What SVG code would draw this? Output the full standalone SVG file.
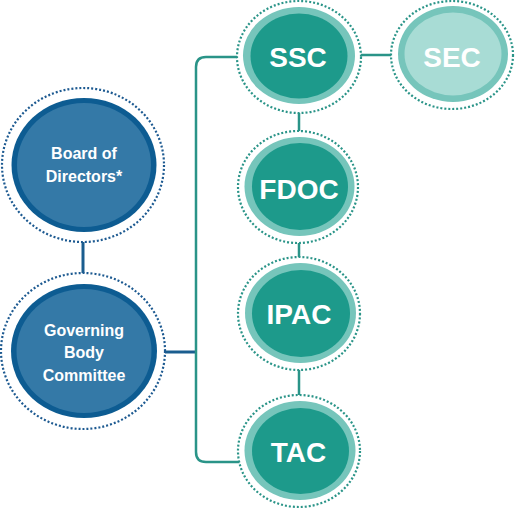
<svg xmlns="http://www.w3.org/2000/svg" width="515" height="508" viewBox="0 0 515 508">
<style>
.bdot{fill:#fff;stroke:#1d5a91;stroke-width:2.2;stroke-dasharray:2 2}
.bring{fill:#0d5c92}
.bfill{fill:#3479a7}
.tdot{fill:#fff;stroke:#2a9488;stroke-width:2.2;stroke-dasharray:2 2}
.tring{fill:#76c5bb}
.tfill{fill:#1d9a8b}
.sfill{fill:#a8dcd5}
.btxt{font-family:"Liberation Sans",Arial,sans-serif;font-weight:bold;font-size:16px;fill:#fff;text-anchor:middle}
.ttxt{font-family:"Liberation Sans",Arial,sans-serif;font-weight:bold;font-size:28px;fill:#fff;text-anchor:middle}
</style>
<rect width="515" height="508" fill="#fff"/>
<g id="connectors" fill="none">
<line x1="83" y1="240" x2="83" y2="275" stroke="#1a5d8f" stroke-width="3"/>
<line x1="165" y1="352" x2="196" y2="352" stroke="#1a5d8f" stroke-width="3"/>
<path d="M240 57 H206 Q196 57 196 67 V452 Q196 462 206 462 H245" stroke="#2a9488" stroke-width="2.5"/>
<line x1="299" y1="100" x2="299" y2="410" stroke="#2a9488" stroke-width="2.5"/>
<line x1="355" y1="55" x2="398" y2="55" stroke="#2a9488" stroke-width="2.5"/>
</g>
<g id="board">
<ellipse class="bdot" cx="83" cy="165" rx="81" ry="77"/>
<ellipse class="bring" cx="84" cy="165" rx="72.5" ry="67"/>
<ellipse class="bfill" cx="84" cy="165" rx="67" ry="62"/>
<text class="btxt" x="84" y="159">Board of</text>
<text class="btxt" x="84" y="182">Directors*</text>
</g>
<g id="governing">
<ellipse class="bdot" cx="83" cy="351" rx="82" ry="78"/>
<ellipse class="bring" cx="84" cy="351" rx="73" ry="67"/>
<ellipse class="bfill" cx="84" cy="351" rx="67.5" ry="62"/>
<text class="btxt" x="84" y="336">Governing</text>
<text class="btxt" x="84" y="358">Body</text>
<text class="btxt" x="84" y="381">Committee</text>
</g>
<g id="ssc">
<ellipse class="tdot" cx="299" cy="57" rx="62" ry="56"/>
<ellipse class="tring" cx="299" cy="55.5" rx="56" ry="48.5"/>
<ellipse class="tfill" cx="299" cy="56" rx="48.5" ry="42.5"/>
<text class="ttxt" x="298" y="67">SSC</text>
</g>
<g id="sec">
<ellipse class="tdot" cx="452" cy="55" rx="61" ry="54"/>
<ellipse class="tring" cx="453" cy="54" rx="55" ry="48"/>
<ellipse class="sfill" cx="453" cy="54" rx="48.5" ry="41.5"/>
<text class="ttxt" x="452" y="67">SEC</text>
</g>
<g id="fdoc">
<ellipse class="tdot" cx="298" cy="187" rx="60" ry="56"/>
<ellipse class="tring" cx="299.5" cy="186.5" rx="55" ry="49.5"/>
<ellipse class="tfill" cx="300" cy="186.5" rx="48" ry="43.5"/>
<text class="ttxt" x="299" y="199">FDOC</text>
</g>
<g id="ipac">
<ellipse class="tdot" cx="299" cy="313.5" rx="61" ry="56.5"/>
<ellipse class="tring" cx="300.5" cy="313" rx="55.5" ry="50"/>
<ellipse class="tfill" cx="301" cy="313.5" rx="49" ry="43.5"/>
<text class="ttxt" x="299" y="324">IPAC</text>
</g>
<g id="tac">
<ellipse class="tdot" cx="299" cy="451" rx="61" ry="56"/>
<ellipse class="tring" cx="300" cy="450.5" rx="55.5" ry="49.5"/>
<ellipse class="tfill" cx="300.5" cy="451" rx="48.5" ry="43"/>
<text class="ttxt" x="298.5" y="462">TAC</text>
</g>
</svg>
